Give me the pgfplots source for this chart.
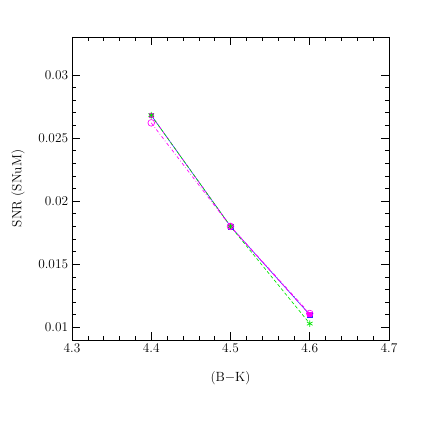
\documentclass[border=0pt]{standalone}
\usepackage{pgfplots}
\pgfplotsset{compat=1.18}
\definecolor{snblue}{RGB}{40,40,255}
\definecolor{snmag}{RGB}{255,0,255}
\definecolor{sngreen}{RGB}{0,230,0}

\begin{document}
\begin{tikzpicture}
\useasboundingbox (-64.8pt,-76.5pt) rectangle (317.7pt,306pt);
\begin{axis}[
    at={(0,0)}, anchor=south west,
    scale only axis,
    width=285.3pt, height=272.7pt,
    xmin=4.3, xmax=4.7, ymin=0.009, ymax=0.033,
    xtick={4.3,4.4,...,4.7},
    ytick={0.01,0.015,...,0.03},
    minor x tick num=4, minor y tick num=4,
    tick align=inside,
    major tick length=7pt, minor tick length=3.5pt,
    tick label style={font=\large},
    label style={font=\large},
    xticklabel style={/pgf/number format/fixed, /pgf/number format/precision=1},
    yticklabel style={/pgf/number format/fixed, /pgf/number format/precision=3},
    scaled y ticks=false,
    xlabel={(B$-$K)}, ylabel={SNR (SNuM)},
    xlabel style={at={(axis description cs:0.5,-0.125)}, anchor=center},
    ylabel style={at={(axis description cs:-0.17,0.5)}, anchor=center},
    axis line style={line width=0.6pt},
    every tick/.style={black, line width=0.5pt},
]
% blue: solid with filled squares
\addplot[snblue, line width=0.5pt, mark=square*, mark size=2.2pt] coordinates {
    (4.4,0.0268) (4.5,0.0180) (4.6,0.0110)
};
% magenta: dashed with filled squares
\addplot[snmag, line width=0.6pt, dashed, mark=square*, mark size=1.8pt, mark options={solid}] coordinates {
    (4.4,0.0268) (4.5,0.0180) (4.6,0.0110)
};
% green: dashed with stars
\addplot[sngreen, line width=0.6pt, dash pattern=on 3pt off 2pt, mark=asterisk, mark size=3pt, mark options={solid}] coordinates {
    (4.4,0.0268) (4.5,0.0180) (4.6,0.0103)
};
% magenta: dash-dot with open circles
\addplot[snmag, line width=0.6pt, dashdotted, mark=o, mark size=3pt, mark options={solid}] coordinates {
    (4.4,0.0262) (4.5,0.0180) (4.6,0.0111)
};
\end{axis}
\end{tikzpicture}
\end{document}
